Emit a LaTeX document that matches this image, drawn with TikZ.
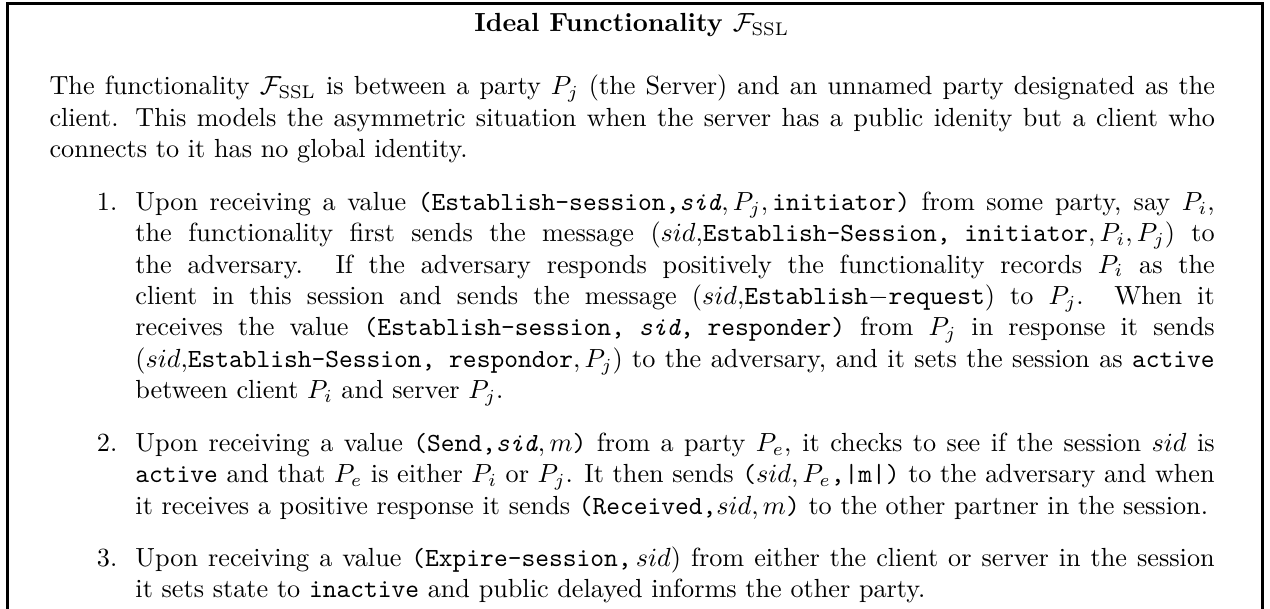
\documentclass[tikz,border=0pt]{standalone}
\usepackage{amsmath}

\begin{document}
\begin{tikzpicture}[x=1pt,y=1pt,
  frame/.style={line width=1.2pt},
  para/.style={anchor=base west,inner sep=0pt,align=justify},
  itemnum/.style={anchor=base east,inner sep=0pt}]
\useasboundingbox (0,0) rectangle (484.7,-232.4);
\coordinate (fsw) at (3,-232.4);
\coordinate (fnw) at (3,-1.5);
\coordinate (fne) at (481.7,-1.5);
\coordinate (fse) at (481.7,-232.4);
\draw[frame] (fsw) -- (fnw) -- (fne) -- (fse);
\node[anchor=base] (title) at (241.1,-12.2) {\bfseries Ideal Functionality $\mathcal{F}_{\mathrm{SSL}}$};
\node[para,text width=444.8pt] (intro) at (18.7,-36.2) {The functionality $\mathcal{F}_{\mathrm{SSL}}$ is between a party $P_j$ (the Server) and an unnamed party designated as the\linebreak
client. This models the asymmetric situation when the server has a public idenity but a client who\linebreak
connects to it has no global identity.};
\node[itemnum] (n1) at (45,-80.2) {1.};
\node[para,text width=411.9pt] (item1) at (51.5,-80.2) {Upon receiving a value \texttt{(Establish-session,\textit{sid}}$,P_j,$\,\texttt{initiator)} from some party, say $P_i$,\linebreak
the functionality first sends the message $(sid,$\texttt{Establish-Session, initiator}$,P_i,P_j)$ to\linebreak
the adversary. If the adversary responds positively the functionality records $P_i$ as the\linebreak
client in this session and sends the message $(sid,$\texttt{Establish}$-$\texttt{request}$)$ to $P_j$. When it\linebreak
receives the value \texttt{(Establish-session, \textit{sid}, responder)} from $P_j$ in response it sends\linebreak
$(sid,$\texttt{Establish-Session, respondor}$,P_j)$ to the adversary, and it sets the session as \texttt{active}\linebreak
between client $P_i$ and server $P_j$.};
\node[itemnum] (n2) at (45,-172.2) {2.};
\node[para,text width=411.9pt] (item2) at (51.5,-172.2) {Upon receiving a value \texttt{(Send,\textit{sid}}$,m$\texttt{)} from a party $P_e$, it checks to see if the session $sid$ is\linebreak
\texttt{active} and that $P_e$ is either $P_i$ or $P_j$. It then sends \texttt{(}$sid,P_e$\texttt{,|m|)} to the adversary and when\linebreak
it receives a positive response it sends \texttt{(Received,}$sid,m$\texttt{)} to the other partner in the session.};
\node[itemnum] (n3) at (45,-216.2) {3.};
\node[para,text width=411.9pt] (item3) at (51.5,-216.2) {Upon receiving a value \texttt{(Expire-session,}\,$sid$) from either the client or server in the session\linebreak
it sets state to \texttt{inactive} and public delayed informs the other party.};
\end{tikzpicture}
\end{document}
